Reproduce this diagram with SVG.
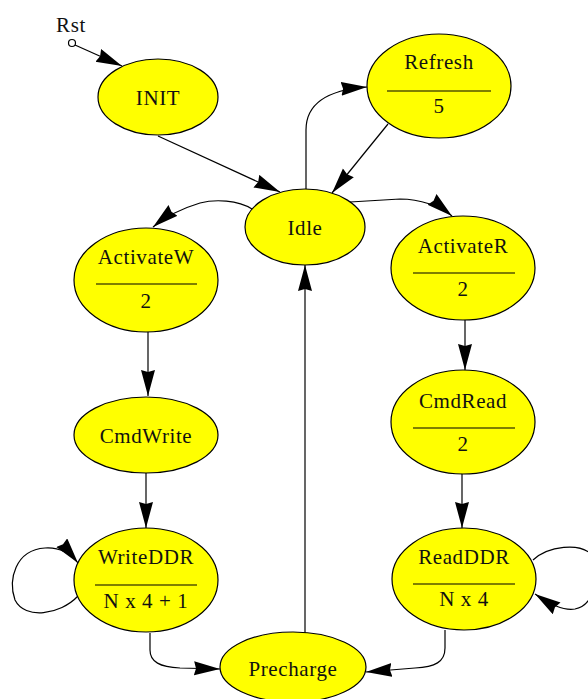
<svg xmlns="http://www.w3.org/2000/svg" width="588" height="699" viewBox="0 0 588 699">
<style>
.n{fill:#ffff00;stroke:#000;stroke-width:1.2}
.t{font-family:"Liberation Serif","Times New Roman",serif;font-size:21px;fill:#111;text-anchor:middle;letter-spacing:0.6px}
.d{stroke:#000;stroke-width:1.2}
.e{fill:none;stroke:#000;stroke-width:1.2;marker-end:url(#ah)}
</style>
<defs>
<marker id="ah" markerUnits="userSpaceOnUse" markerWidth="30" markerHeight="16" refX="26" refY="7" orient="auto">
<path d="M0,0 L26,7 L0,14 L2,7 z" fill="#000"/>
</marker>
</defs>
<rect width="588" height="699" fill="#fff"/>
<g id="connectors">
<path class="e" d="M75,45 L122,66"/>
<path class="e" d="M158,136 L280,192"/>
<path class="e" d="M306,189 L306,130 C306,105 325,90 367,87"/>
<path class="e" d="M388,124 L332,193"/>
<path class="e" d="M350,202 L400,199 C420,199 440,206 452,216"/>
<path class="e" d="M252,209 C238,200 215,199 200,203 C180,209 165,217 153,227"/>
<path class="e" d="M148,332 L148,396"/>
<path class="e" d="M146,473 L146,528"/>
<path class="e" d="M465,320 L465,370"/>
<path class="e" d="M462,473 L462,528"/>
<path class="e" d="M78,596 C60,615 25,620 15,600 C8,580 15,550 45,548 C60,547 70,553 78,563"/>
<path class="e" d="M533,560 C548,546 580,542 592,555 C600,575 595,605 575,609 C563,611 550,604 535,594"/>
<path class="e" d="M150,633 L150,650 C150,662 160,667 180,668 L220,669"/>
<path class="e" d="M445,630 L445,648 C445,662 435,667 415,668 L366,672"/>
<path class="e" d="M305,633 L305,265"/>
</g>
<g id="rst">
<circle cx="72" cy="43" r="3.5" fill="#fff" stroke="#000" stroke-width="1.2"/>
<text class="t" x="71" y="32">Rst</text>
</g>
<g id="INIT">
<ellipse class="n" cx="158" cy="97" rx="60" ry="38"/>
<text class="t" x="158" y="105">INIT</text>
</g>
<g id="Refresh">
<ellipse class="n" cx="439" cy="86" rx="72" ry="52"/>
<text class="t" x="439" y="69">Refresh</text>
<line class="d" x1="387" y1="91" x2="491" y2="91"/>
<text class="t" x="439" y="113">5</text>
</g>
<g id="Idle">
<ellipse class="n" cx="305" cy="227" rx="60" ry="38"/>
<text class="t" x="305" y="235">Idle</text>
</g>
<g id="ActivateW">
<ellipse class="n" cx="146" cy="280" rx="72" ry="52"/>
<text class="t" x="146" y="264">ActivateW</text>
<line class="d" x1="96" y1="284" x2="197" y2="284"/>
<text class="t" x="146" y="308">2</text>
</g>
<g id="ActivateR">
<ellipse class="n" cx="463" cy="268" rx="72" ry="52"/>
<text class="t" x="463" y="253">ActivateR</text>
<line class="d" x1="413" y1="273" x2="515" y2="273"/>
<text class="t" x="463" y="296">2</text>
</g>
<g id="CmdWrite">
<ellipse class="n" cx="146" cy="435" rx="72" ry="38"/>
<text class="t" x="146" y="443">CmdWrite</text>
</g>
<g id="CmdRead">
<ellipse class="n" cx="463" cy="422" rx="72" ry="52"/>
<text class="t" x="463" y="408">CmdRead</text>
<line class="d" x1="413" y1="428" x2="515" y2="428"/>
<text class="t" x="463" y="451">2</text>
</g>
<g id="WriteDDR">
<ellipse class="n" cx="146" cy="580" rx="72" ry="52"/>
<text class="t" x="146" y="564">WriteDDR</text>
<line class="d" x1="95" y1="585" x2="197" y2="585"/>
<text class="t" x="146" y="608">N x 4 + 1</text>
</g>
<g id="ReadDDR">
<ellipse class="n" cx="464" cy="579" rx="72" ry="51"/>
<text class="t" x="464" y="564">ReadDDR</text>
<line class="d" x1="413" y1="584" x2="515" y2="584"/>
<text class="t" x="464" y="606">N x 4</text>
</g>
<g id="Precharge">
<ellipse class="n" cx="293" cy="667" rx="73" ry="35"/>
<text class="t" x="293" y="676">Precharge</text>
</g>
</svg>
